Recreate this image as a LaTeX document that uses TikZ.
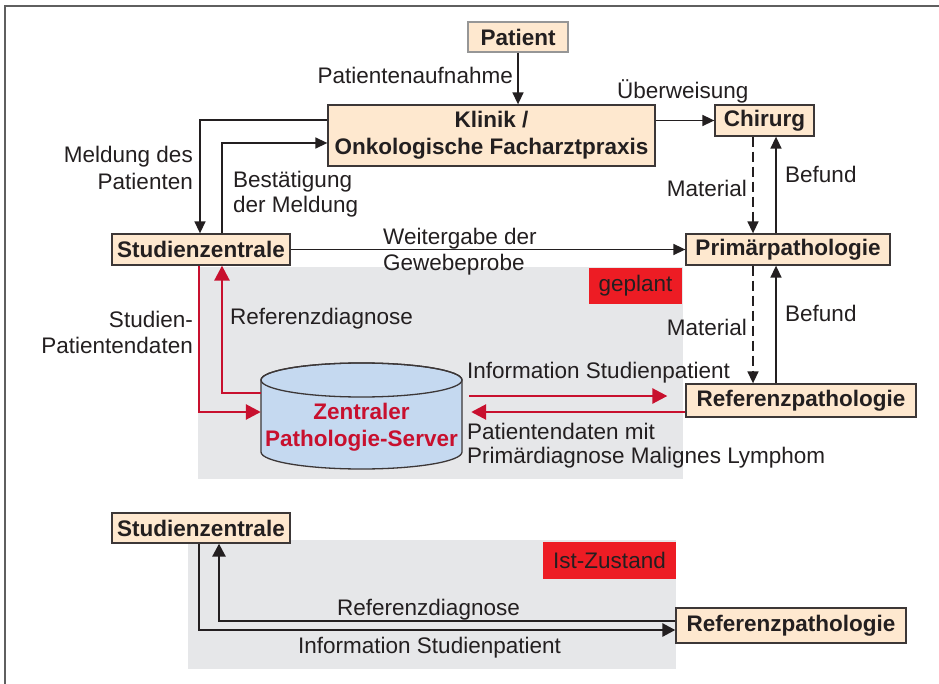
\documentclass[tikz,border=0pt]{standalone}
\usepackage{fontspec}
\setmainfont{Liberation Sans}
\usetikzlibrary{arrows.meta}
\definecolor{peach}{RGB}{254,232,207}
\definecolor{boxline}{RGB}{60,55,55}
\definecolor{patline}{RGB}{150,150,150}
\definecolor{txt}{RGB}{35,31,32}
\definecolor{redc}{RGB}{200,16,46}
\definecolor{redbox}{RGB}{237,28,36}
\definecolor{graybg}{RGB}{230,231,233}
\definecolor{srvfill}{RGB}{197,217,240}
\definecolor{framec}{RGB}{95,95,95}
\begin{document}
\begin{tikzpicture}[x=1pt,y=-1pt,
  font=\fontsize{22.5}{27}\selectfont,
  box/.style={draw=boxline, line width=1.3pt, fill=peach,
    font=\fontsize{22.5}{27}\selectfont\bfseries, text=txt, inner sep=0pt, align=center},
  lbl/.style={inner sep=0pt, text=txt},
  arr/.style={draw=txt, line width=1.5pt, -{Triangle[length=12pt,width=11pt]}},
  dasharr/.style={arr, dash pattern=on 10pt off 5pt},
  redarr/.style={draw=redc, line width=2.7pt, -{Triangle[length=15pt,width=15pt]}},
  thickarr/.style={draw=txt, line width=2.7pt, -{Triangle[length=13pt,width=13pt]}},
  tag/.style={fill=redbox, text=txt, inner sep=0pt},
  srvtext/.style={inner sep=0pt, text=redc, font=\fontsize{22.5}{27}\selectfont\bfseries}]
\useasboundingbox (0,0) rectangle (939,684);
\fill[white] (0,0) rectangle (939,684);
\draw[framec, line width=1.6pt] (5,684) -- (5,6) -- (939,6);

% shaded areas
\fill[graybg] (198,267) rectangle (683,479);
\fill[graybg] (188,540) rectangle (676,669);
\node[tag, minimum width=93pt, minimum height=36pt] (geplant) at (635.5,286) {geplant};
\node[tag, minimum width=133pt, minimum height=37pt] (ist) at (609.5,560.5) {Ist-Zustand};

% boxes
\node[box, draw=patline, minimum width=100pt, minimum height=30pt] (patient) at (518,37) {Patient};
\node[box, minimum width=327pt, minimum height=61pt] (klinik) at (491.5,135.5) {Klinik /\\Onkologische Facharztpraxis};
\node[box, minimum width=99pt, minimum height=31pt] (chirurg) at (764.5,120.5) {Chirurg};
\node[box, minimum width=204pt, minimum height=31pt] (primaer) at (788,249.5) {Primärpathologie};
\node[box, minimum width=178pt, minimum height=31pt] (stud) at (201,249.5) {Studienzentrale};
\node[box, minimum width=230pt, minimum height=33pt] (refp) at (801,400.5) {Referenzpathologie};
\node[box, minimum width=178pt, minimum height=30pt] (stud2) at (201,528) {Studienzentrale};
\node[box, minimum width=230pt, minimum height=35pt] (refp2) at (791,625.5) {Referenzpathologie};

% server cylinder
\filldraw[fill=srvfill, draw=boxline, line width=1.3pt]
  (261,380) -- (261,452) arc[start angle=180, end angle=360, x radius=100.5pt, y radius=17pt]
  -- (462,380) arc[start angle=0, end angle=180, x radius=100.5pt, y radius=17pt] -- cycle;
\draw[boxline, line width=1.3pt] (361.5,380) ellipse[x radius=100.5pt, y radius=17pt];
\node[inner sep=0pt, minimum width=201pt, minimum height=106pt] (server) at (361.5,416) {};
\node[srvtext, anchor=base] (srv1) at (361.5,419) {Zentraler};
\node[srvtext, anchor=base] (srv2) at (361.5,446) {Pathologie-Server};

% labels
\node[lbl, anchor=base east] (lpa) at (513,84) {Patientenaufnahme};
\node[lbl, anchor=base west] (lub) at (617,99) {Überweisung};
\node[lbl, anchor=base east] (lme1) at (193,163) {Meldung des};
\node[lbl, anchor=base east] (lme2) at (193,190) {Patienten};
\node[lbl, anchor=base west] (lbe1) at (233,188) {Bestätigung};
\node[lbl, anchor=base west] (lbe2) at (233,213) {der Meldung};
\node[lbl, anchor=base west] (lwe1) at (383,245) {Weitergabe der};
\node[lbl, anchor=base west] (lwe2) at (383,271) {Gewebeprobe};
\node[lbl, anchor=base east] (lma1) at (747,197) {Material};
\node[lbl, anchor=base west] (lbf1) at (785,183) {Befund};
\node[lbl, anchor=base east] (lma2) at (747,336) {Material};
\node[lbl, anchor=base west] (lbf2) at (785,322) {Befund};
\node[lbl, anchor=base west] (lrd1) at (230,325) {Referenzdiagnose};
\node[lbl, anchor=base east] (lsp1) at (193,327) {Studien-};
\node[lbl, anchor=base east] (lsp2) at (193,353) {Patientendaten};
\node[lbl, anchor=base west] (lis1) at (467,378) {Information Studienpatient};
\node[lbl, anchor=base west] (lpd1) at (467,439) {Patientendaten mit};
\node[lbl, anchor=base west] (lpd2) at (467,463) {Primärdiagnose Malignes Lymphom};
\node[lbl, anchor=base west] (lrd2) at (337,615) {Referenzdiagnose};
\node[lbl, anchor=base west] (lis2) at (298,653) {Information Studienpatient};

% black connectors
\draw[arr] (patient.south) -- (patient.south |- klinik.north);
\draw[arr] (klinik.east |- chirurg.west) -- (chirurg.west);
\coordinate (m1) at (200,120);
\draw[arr] (klinik.west |- m1) -- (m1) -- (m1 |- stud.north);
\coordinate (b1) at (222,143);
\draw[arr] (b1 |- stud.north) -- (b1) -- (b1 -| klinik.west);
\draw[arr] (stud.east) -- (primaer.west);
\coordinate (mx) at (753,0);
\coordinate (bx) at (776,0);
\draw[dasharr] (mx |- chirurg.south) -- (mx |- primaer.north);
\draw[arr] (bx |- primaer.north) -- (bx |- chirurg.south);
\draw[dasharr] (mx |- primaer.south) -- (mx |- refp.north);
\draw[arr] (bx |- refp.north) -- (bx |- primaer.south);

% red connectors
\coordinate (r1) at (199,412);
\draw[redarr] (r1 |- stud.south) -- (r1) -- (r1 -| server.west);
\coordinate (r2) at (222,393);
\draw[redarr] (r2 -| server.west) -- (r2) -- (r2 |- stud.south);
\coordinate (se1) at ([xshift=7pt]server.east);
\coordinate (se2) at ([xshift=9pt]server.east);
\coordinate (r3) at (0,396);
\coordinate (r4) at (0,412);
\draw[redarr, shorten >=18pt] (se1 |- r3) -- (refp.west |- r3);
\draw[redarr] (refp.west |- r4) -- (se2 |- r4);

% bottom connectors
\coordinate (i1) at (199,630);
\draw[thickarr] (i1 |- stud2.south) -- (i1) -- (i1 -| refp2.west);
\coordinate (i2) at (219,621);
\draw[thickarr] (i2 -| refp2.west) -- (i2) -- (i2 |- stud2.south);
\end{tikzpicture}
\end{document}
